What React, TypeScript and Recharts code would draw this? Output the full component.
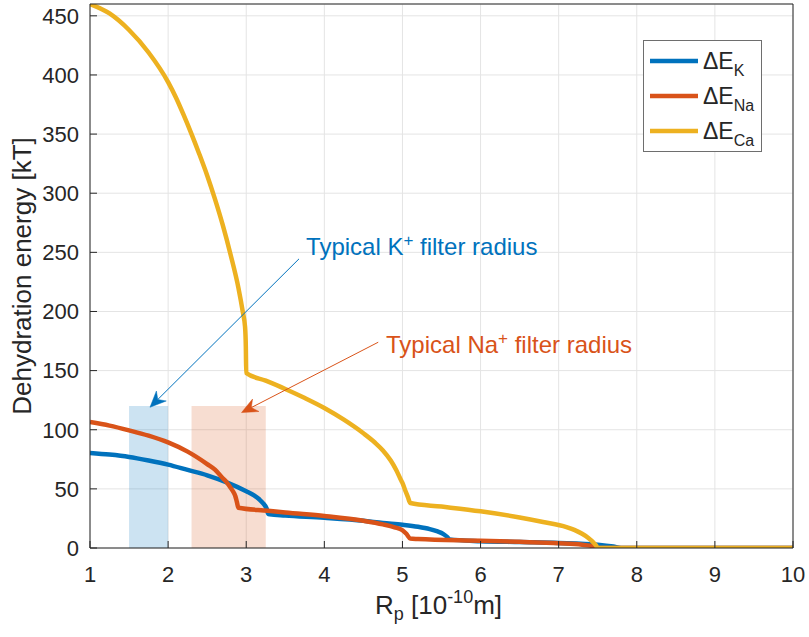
import React from 'react';
import {
  LineChart,
  Line,
  XAxis,
  YAxis,
  CartesianGrid,
  ReferenceArea,
  ReferenceLine,
  ReferenceDot,
  Legend,
} from 'recharts';

// ---- data ----
const xTicks = [1, 2, 3, 4, 5, 6, 7, 8, 9, 10];
const yTicks = [0, 50, 100, 150, 200, 250, 300, 350, 400, 450];

const kX = [1, 1.25, 1.5, 1.75, 2, 2.25, 2.5, 2.75, 3, 3.1, 3.17, 3.22, 3.26, 3.28, 3.3, 3.5, 4, 4.5, 4.75, 5, 5.2, 5.35, 5.45, 5.52, 5.57, 5.6, 6, 6.5, 7, 7.5, 7.7, 7.8, 10];
const kY = [80.4, 79, 77, 74, 70.5, 66, 61.5, 55.5, 48, 44.5, 41, 37.5, 33.5, 29, 28.5, 27.5, 25.5, 23, 21.2, 19.7, 18, 16, 14, 12, 9.5, 7.3, 5.8, 5, 4.3, 2.8, 1.2, 0, 0];

const naX = [1, 1.25, 1.5, 1.75, 2, 2.25, 2.5, 2.6, 2.7, 2.75, 2.8, 2.83, 2.86, 2.88, 2.9, 3.28, 3.5, 4, 4.5, 4.75, 4.9, 5, 5.05, 5.1, 5.2, 6, 6.5, 7, 7.3, 7.4, 7.5, 10];
const naY = [106.5, 103.5, 99.5, 95, 89.3, 81.5, 71, 66.3, 59, 55.5, 51, 48, 44, 39, 34, 31.5, 30, 27, 23, 20, 17.5, 15, 12, 8, 7.6, 6.2, 5.2, 4, 2.8, 2, 0, 0];

const caX = [1, 1.25, 1.5, 1.75, 2, 2.1, 2.2, 2.3, 2.4, 2.5, 2.6, 2.7, 2.8, 2.9, 2.955, 2.985, 2.995, 3, 3.25, 3.5, 3.75, 4, 4.25, 4.5, 4.65, 4.75, 4.85, 4.92, 4.97, 5, 5.04, 5.07, 5.1, 5.5, 6, 6.5, 6.8, 7.1, 7.2, 7.3, 7.38, 7.44, 7.48, 7.5, 10];
const caY = [460, 452, 438, 419, 394, 381, 366, 350, 333, 315, 295, 273, 248, 220, 200, 187, 170, 148, 141.5, 134.5, 126.8, 118.4, 108.5, 97, 89, 82.5, 74, 66, 59, 55, 48, 43, 38, 35, 31, 25.8, 22, 17.7, 15.3, 12, 8.5, 5, 2, 0, 0];

const kBox = [1.5, 2.0];
const naBox = [2.3, 3.25];
const boxTop = 120;

const kArrow = [{ x: 3.676, y: 244.5 }, { x: 1.768, y: 119 }];
const naArrow = [{ x: 4.69, y: 174 }, { x: 2.94, y: 114.5 }];
const kText = { x: 3.766, y: 248 };
const naText = { x: 4.79, y: 165 };

const BLUE = '#0072BD';
const ORANGE = '#D95319';
const YELLOW = '#EDB120';
const AX = '#262626';
const FONT = '"Liberation Sans", Arial, Helvetica, sans-serif';
const LW = 4.5;

const toPts = (xs: number[], ys: number[]) => xs.map((x, i) => ({ x, y: ys[i] }));
const kData = toPts(kX, kY);
const naData = toPts(naX, naY);
const caData = toPts(caX, caY);

const makeArrow = (color: string) => (props: any) => {
  const { x1, y1, x2, y2 } = props;
  const dx = x2 - x1;
  const dy = y2 - y1;
  const len = Math.hypot(dx, dy) || 1;
  const ux = dx / len;
  const uy = dy / len;
  const px = -uy;
  const py = ux;
  const L = 16;
  const W = 7;
  const N = 11;
  const bx = x2 - ux * L;
  const by = y2 - uy * L;
  const nx = x2 - ux * N;
  const ny = y2 - uy * N;
  const pts = `${x2},${y2} ${bx + px * W},${by + py * W} ${nx},${ny} ${bx - px * W},${by - py * W}`;
  return (
    <g>
      <line x1={x1} y1={y1} x2={nx} y2={ny} stroke={color} strokeWidth={1} />
      <polygon points={pts} fill={color} stroke={color} strokeWidth={0.5} />
    </g>
  );
};

const makeText = (color: string, ion: string) => (props: any) => {
  const { cx, cy } = props;
  return (
    <text x={cx} y={cy} fill={color} fontSize={24} fontFamily={FONT}>
      {`Typical ${ion}`}
      <tspan dy={-9} fontSize={17}>+</tspan>
      <tspan dy={9}> filter radius</tspan>
    </text>
  );
};

const XLabel = (props: any) => {
  const vb = props.viewBox || {};
  const cx = vb.x + vb.width / 2 - 3;
  const y = vb.y + 66;
  return (
    <text x={cx} y={y} textAnchor="middle" fill={AX} fontSize={26} fontFamily={FONT}>
      R
      <tspan dy={6} fontSize={18}>p</tspan>
      <tspan dy={-6}> [10</tspan>
      <tspan dy={-11} fontSize={18}>-10</tspan>
      <tspan dy={11}>m]</tspan>
    </text>
  );
};

const YLabel = (props: any) => {
  const vb = props.viewBox || {};
  const cy = vb.y + vb.height / 2;
  const x = 31;
  return (
    <text
      x={x}
      y={cy}
      textAnchor="middle"
      fill={AX}
      fontSize={26}
      fontFamily={FONT}
      transform={`rotate(-90, ${x}, ${cy})`}
    >
      Dehydration energy [kT]
    </text>
  );
};

const legendItems = [
  { color: BLUE, sub: 'K' },
  { color: ORANGE, sub: 'Na' },
  { color: YELLOW, sub: 'Ca' },
];

const renderLegend = () => (
  <svg width={120} height={113} style={{ display: 'block' }}>
    <rect x={0.5} y={0.5} width={118} height={111} fill="#fff" stroke="#6e6e6e" strokeWidth={1} />
    {legendItems.map((it, i) => {
      const cy = 21 + i * 35;
      return (
        <g key={it.sub}>
          <line x1={7} x2={55} y1={cy} y2={cy} stroke={it.color} strokeWidth={LW} />
          <text x={60} y={cy + 8} fontSize={23} fill={AX} fontFamily={FONT}>
            ΔE
            <tspan dy={7} fontSize={16}>{it.sub}</tspan>
          </text>
        </g>
      );
    })}
  </svg>
);

const tickStyle = { fontSize: 22, fill: AX, fontFamily: FONT };

export default function App() {
  return (
    <div style={{ position: 'absolute', left: 0, top: 0, width: 809, height: 637, background: '#fff' }}>
      <LineChart width={809} height={637} margin={{ top: 3, right: 15, bottom: 0, left: 0 }}>
        <CartesianGrid stroke="#e4e4e4" strokeWidth={1} />
        <XAxis
          type="number"
          dataKey="x"
          domain={[1, 10]}
          ticks={xTicks}
          height={89}
          tickSize={-7}
          tickMargin={25}
          stroke={AX}
          tick={tickStyle}
          allowDataOverflow
          label={XLabel}
        />
        <XAxis
          xAxisId="top"
          orientation="top"
          type="number"
          domain={[1, 10]}
          ticks={xTicks}
          height={1}
          tickSize={-7}
          stroke={AX}
          tick={false}
          allowDataOverflow
        />
        <YAxis
          type="number"
          domain={[0, 460]}
          ticks={yTicks}
          width={90}
          tickSize={-7}
          tickMargin={18}
          stroke={AX}
          tick={tickStyle}
          allowDataOverflow
          label={YLabel}
        />
        <YAxis
          yAxisId="right"
          orientation="right"
          type="number"
          domain={[0, 460]}
          ticks={yTicks}
          width={1}
          tickSize={-7}
          stroke={AX}
          tick={false}
          allowDataOverflow
        />
        <Line data={kData} dataKey="y" stroke={BLUE} strokeWidth={LW} dot={false} isAnimationActive={false} type="monotone" />
        <Line data={naData} dataKey="y" stroke={ORANGE} strokeWidth={LW} dot={false} isAnimationActive={false} type="monotone" />
        <Line data={caData} dataKey="y" stroke={YELLOW} strokeWidth={LW} dot={false} isAnimationActive={false} type="monotone" />
        <ReferenceArea x1={kBox[0]} x2={kBox[1]} y1={0} y2={boxTop} fill={BLUE} fillOpacity={0.2} stroke="none" />
        <ReferenceArea x1={naBox[0]} x2={naBox[1]} y1={0} y2={boxTop} fill={ORANGE} fillOpacity={0.2} stroke="none" />
        <ReferenceLine segment={kArrow} shape={makeArrow(BLUE)} />
        <ReferenceLine segment={naArrow} shape={makeArrow(ORANGE)} />
        <ReferenceDot x={kText.x} y={kText.y} r={0} shape={makeText(BLUE, 'K')} />
        <ReferenceDot x={naText.x} y={naText.y} r={0} shape={makeText(ORANGE, 'Na')} />
        <Legend
          layout="vertical"
          align="center"
          verticalAlign="middle"
          content={renderLegend}
          wrapperStyle={{ left: 643, top: 40, width: 120, height: 113 }}
        />
      </LineChart>
    </div>
  );
}
